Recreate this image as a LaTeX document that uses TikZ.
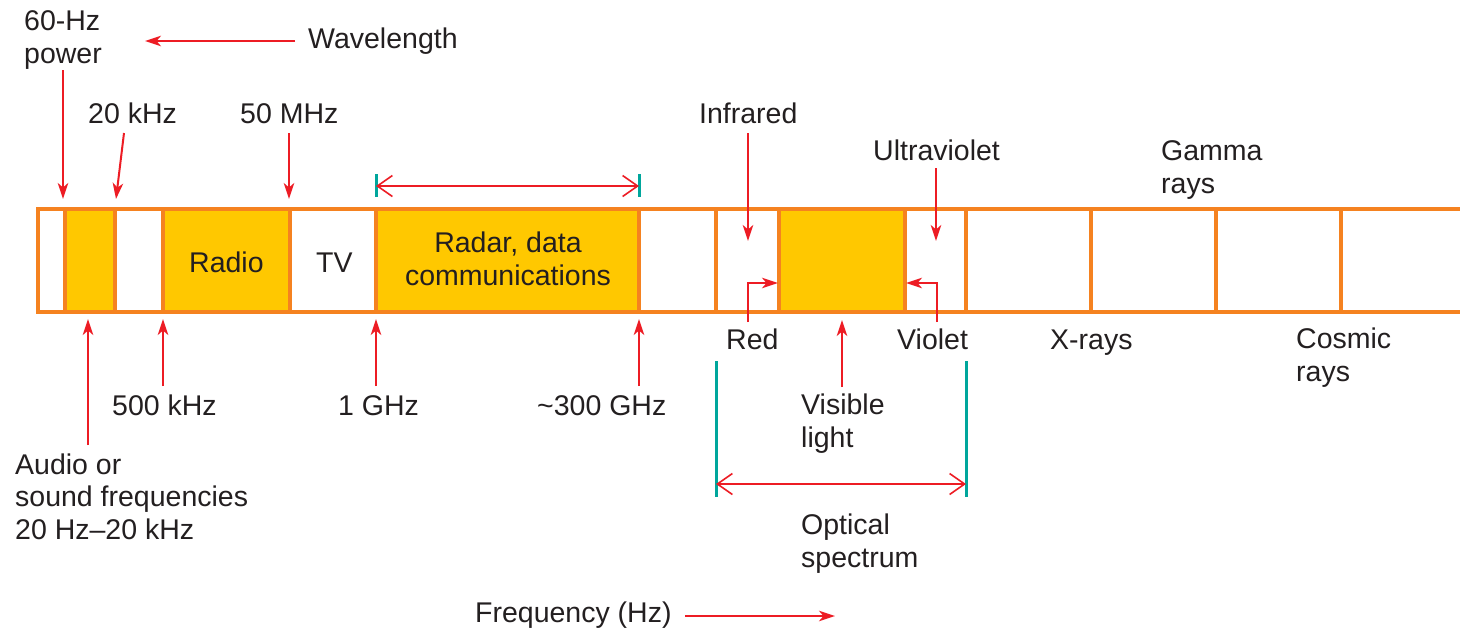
\documentclass[tikz,border=0pt]{standalone}
\usepackage{fontspec}
\setmainfont{Liberation Sans}
\usetikzlibrary{arrows.meta}
\definecolor{bandorange}{RGB}{245,130,32}
\definecolor{bandyellow}{RGB}{255,200,0}
\definecolor{arrowred}{RGB}{237,28,36}
\definecolor{tealc}{RGB}{0,166,156}
\definecolor{txt}{RGB}{35,31,32}
\begin{document}
\begin{tikzpicture}[x=1pt,y=-1pt,
  lbl/.style={font=\fontsize{28.5}{32.5}\selectfont, text=txt, inner sep=0pt, align=left, anchor=base west},
  redarrow/.style={draw=arrowred, line width=2pt, -{Stealth[length=16pt,width=10.5pt,inset=4.5pt]}},
  tealbar/.style={draw=tealc, line width=3pt},
  spanarrow/.style={draw=arrowred, line width=1.6pt, {Straight Barb[length=15pt,width=21pt,line width=1.6pt]}-{Straight Barb[length=15pt,width=21pt,line width=1.6pt]}},
  bandline/.style={draw=bandorange, line width=4pt},
  cellfill/.style={fill=bandyellow}]
\useasboundingbox (0,0) rectangle (1460,630);
\fill[white] (0,0) rectangle (1460,630);

% band cells
\fill[cellfill] (65,209) rectangle (115,312);
\fill[cellfill] (163,209) rectangle (290,312);
\fill[cellfill] (376,209) rectangle (639,312);
\fill[cellfill] (779,209) rectangle (905,312);
\draw[bandline] (1470,209) -- (38,209) -- (38,312) -- (1470,312);
\foreach \x in {65,115,163,290,376,639,716,779,905,966,1091,1216,1341}
  \draw[bandline] (\x,209) -- (\x,312);

% labels in band
\node[lbl] (radio) at (189,272) {Radio};
\node[lbl] (tv) at (316,272) {TV};
\node[lbl, align=center, anchor=base] (radar) at (508,285) {Radar, data\\communications};

% top labels (multi-line nodes placed by the baseline of their last line)
\node[lbl] (sixty) at (24,63) {60-Hz\\power};
\node[lbl] (wave) at (308,48) {Wavelength};
\node[lbl] (k20) at (88,123) {20 kHz};
\node[lbl] (m50) at (240,123) {50 MHz};
\node[lbl] (ir) at (699,123) {Infrared};
\node[lbl] (uv) at (873,160) {Ultraviolet};
\node[lbl] (gamma) at (1161,193) {Gamma\\rays};

% bottom labels
\node[lbl] (audio) at (15,539) {Audio or\\sound frequencies\\20 Hz--20 kHz};
\node[lbl] (k500) at (112,415) {500 kHz};
\node[lbl] (g1) at (338,415) {1 GHz};
\node[lbl] (g300) at (537,415) {\textasciitilde 300 GHz};
\node[lbl] (red) at (726,349) {Red};
\node[lbl] (violet) at (897,349) {Violet};
\node[lbl] (xray) at (1050,349) {X-rays};
\node[lbl] (cosmic) at (1296,381) {Cosmic\\rays};
\node[lbl] (vis) at (801,447) {Visible\\light};
\node[lbl] (opt) at (801,567) {Optical\\spectrum};
\node[lbl] (freq) at (475,622) {Frequency (Hz)};

% coordinates
\coordinate (a60s) at (63,70);   \coordinate (a60e) at (63,199);
\coordinate (a20s) at (124,133); \coordinate (a20e) at (116,199);
\coordinate (a50s) at (289,133); \coordinate (a50e) at (289,199);
\coordinate (wvs) at (295,41);   \coordinate (wve) at (145,41);
\coordinate (irs) at (748,133);  \coordinate (ire) at (748,241);
\coordinate (uvs) at (936,168);  \coordinate (uve) at (936,241);
\coordinate (aus) at (88,445);   \coordinate (aue) at (88,319);
\coordinate (k5s) at (163,386);  \coordinate (k5e) at (163,319);
\coordinate (g1s) at (376,386);  \coordinate (g1e) at (376,319);
\coordinate (g3s) at (639,386);  \coordinate (g3e) at (639,319);
\coordinate (vls) at (842,387);  \coordinate (vle) at (842,320);
\coordinate (rds) at (748,322);  \coordinate (rdm) at (748,283); \coordinate (rde) at (778,283);
\coordinate (vos) at (937,322);  \coordinate (vom) at (937,283); \coordinate (voe) at (906,283);
\coordinate (frs) at (685,616);  \coordinate (fre) at (835,616);
\coordinate (rl) at (376,186);   \coordinate (rr) at (639,186);
\coordinate (ol) at (716,484);   \coordinate (or) at (966,484);

% red arrows
\draw[redarrow] (a60s) -- (a60e);
\draw[redarrow] (a20s) -- (a20e);
\draw[redarrow] (a50s) -- (a50e);
\draw[redarrow] (wvs) -- (wve);
\draw[redarrow] (irs) -- (ire);
\draw[redarrow] (uvs) -- (uve);
\draw[redarrow] (aus) -- (aue);
\draw[redarrow] (k5s) -- (k5e);
\draw[redarrow] (g1s) -- (g1e);
\draw[redarrow] (g3s) -- (g3e);
\draw[redarrow] (vls) -- (vle);
\draw[redarrow] (rds) -- (rdm) -- (rde);
\draw[redarrow] (vos) -- (vom) -- (voe);
\draw[redarrow] (frs) -- (fre);

% span arrows with teal bars
\draw[tealbar] (376,174) -- (376,197);
\draw[tealbar] (639,174) -- (639,197);
\draw[spanarrow] (rl) -- (rr);
\draw[tealbar] (716,361) -- (716,497);
\draw[tealbar] (966,361) -- (966,497);
\draw[spanarrow] (ol) -- (or);
\end{tikzpicture}
\end{document}
